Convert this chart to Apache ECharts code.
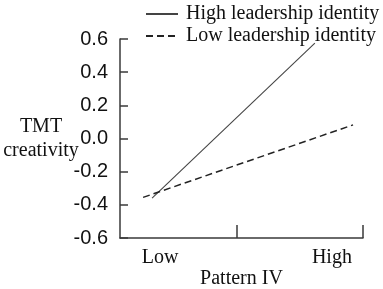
<!DOCTYPE html>
<html>
<head>
<meta charset="utf-8">
<script src="https://cdn.jsdelivr.net/npm/echarts@6/dist/echarts.min.js"></script>
<style>html,body{margin:0;padding:0;background:#fff}#c{width:383px;height:289px}</style>
</head>
<body>
<div id="c"></div>
<script>
// Data (x on a 0-100 "Pattern IV" scale, y = TMT creativity)
const seriesNames = ['High leadership identity', 'Low leadership identity'];
const highX = [13.2, 80.2];
const highY = [-0.36, 0.575];
const lowX = [9.5, 95.9];
const lowY = [-0.355, 0.082];
const xTickValues = [48.1, 100];
const xLabelValues = [16.5, 87.2];
const xLabels = ['Low', 'High'];
const yTicks = [-0.6, -0.4, -0.2, 0.0, 0.2, 0.4, 0.6];

const serif = 'Liberation Serif';
const sans = 'Liberation Sans';
const axisColor = '#3a3a3a';

const chart = echarts.init(document.getElementById('c'));
chart.setOption({
  animation: false,
  backgroundColor: '#fff',
  grid: {left: 120, right: 20, top: 39, bottom: 51, containLabel: false, outerBoundsMode: 'none'},
  legend: {
    orient: 'vertical', left: 145, top: 4, padding: 0,
    itemWidth: 32, itemHeight: 14, itemGap: 2,
    itemStyle: {opacity: 0},
    textStyle: {fontFamily: serif, fontSize: 20, color: '#111', lineHeight: 20, padding: [0, 0, 0, 3]},
    data: seriesNames
  },
  xAxis: {
    type: 'value', min: 0, max: 100,
    name: 'Pattern IV', nameLocation: 'middle', nameGap: 31, nameMoveOverlap: false,
    nameTextStyle: {fontFamily: serif, fontSize: 20, color: '#111'},
    axisLine: {show: true, onZero: false, lineStyle: {color: axisColor, width: 1.5}},
    axisTick: {show: true, inside: true, length: 13, customValues: xTickValues, lineStyle: {color: axisColor, width: 1.5}},
    axisLabel: {
      customValues: xLabelValues, margin: 10,
      fontFamily: serif, fontSize: 20, color: '#111',
      formatter: v => xLabels[xLabelValues.indexOf(v)] || ''
    },
    splitLine: {show: false}
  },
  yAxis: {
    type: 'value', min: -0.6, max: 0.6, interval: 0.2,
    name: 'TMT\ncreativity', nameLocation: 'middle', nameGap: 79, nameRotate: 0, nameMoveOverlap: false,
    nameTextStyle: {fontFamily: serif, fontSize: 20, color: '#111', align: 'center', verticalAlign: 'middle', lineHeight: 24, padding: [2, 0, 0, 0]},
    axisLine: {show: true, onZero: false, lineStyle: {color: axisColor, width: 1.5}},
    axisTick: {show: true, inside: true, length: 8, lineStyle: {color: axisColor, width: 1.5}},
    axisLabel: {
      margin: 12, fontFamily: sans, fontSize: 20, color: '#111',
      formatter: v => v.toFixed(1)
    },
    splitLine: {show: false}
  },
  series: [
    {
      name: seriesNames[0], type: 'line', symbol: 'none',
      data: highX.map((x, i) => [x, highY[i]]),
      lineStyle: {color: '#444', width: 1.1, type: 'solid'},
      itemStyle: {color: '#444'}
    },
    {
      name: seriesNames[1], type: 'line', symbol: 'none',
      data: lowX.map((x, i) => [x, lowY[i]]),
      lineStyle: {color: '#222', width: 1.5, type: [7, 4]},
      itemStyle: {color: '#222'}
    }
  ]
});
</script>
</body>
</html>
